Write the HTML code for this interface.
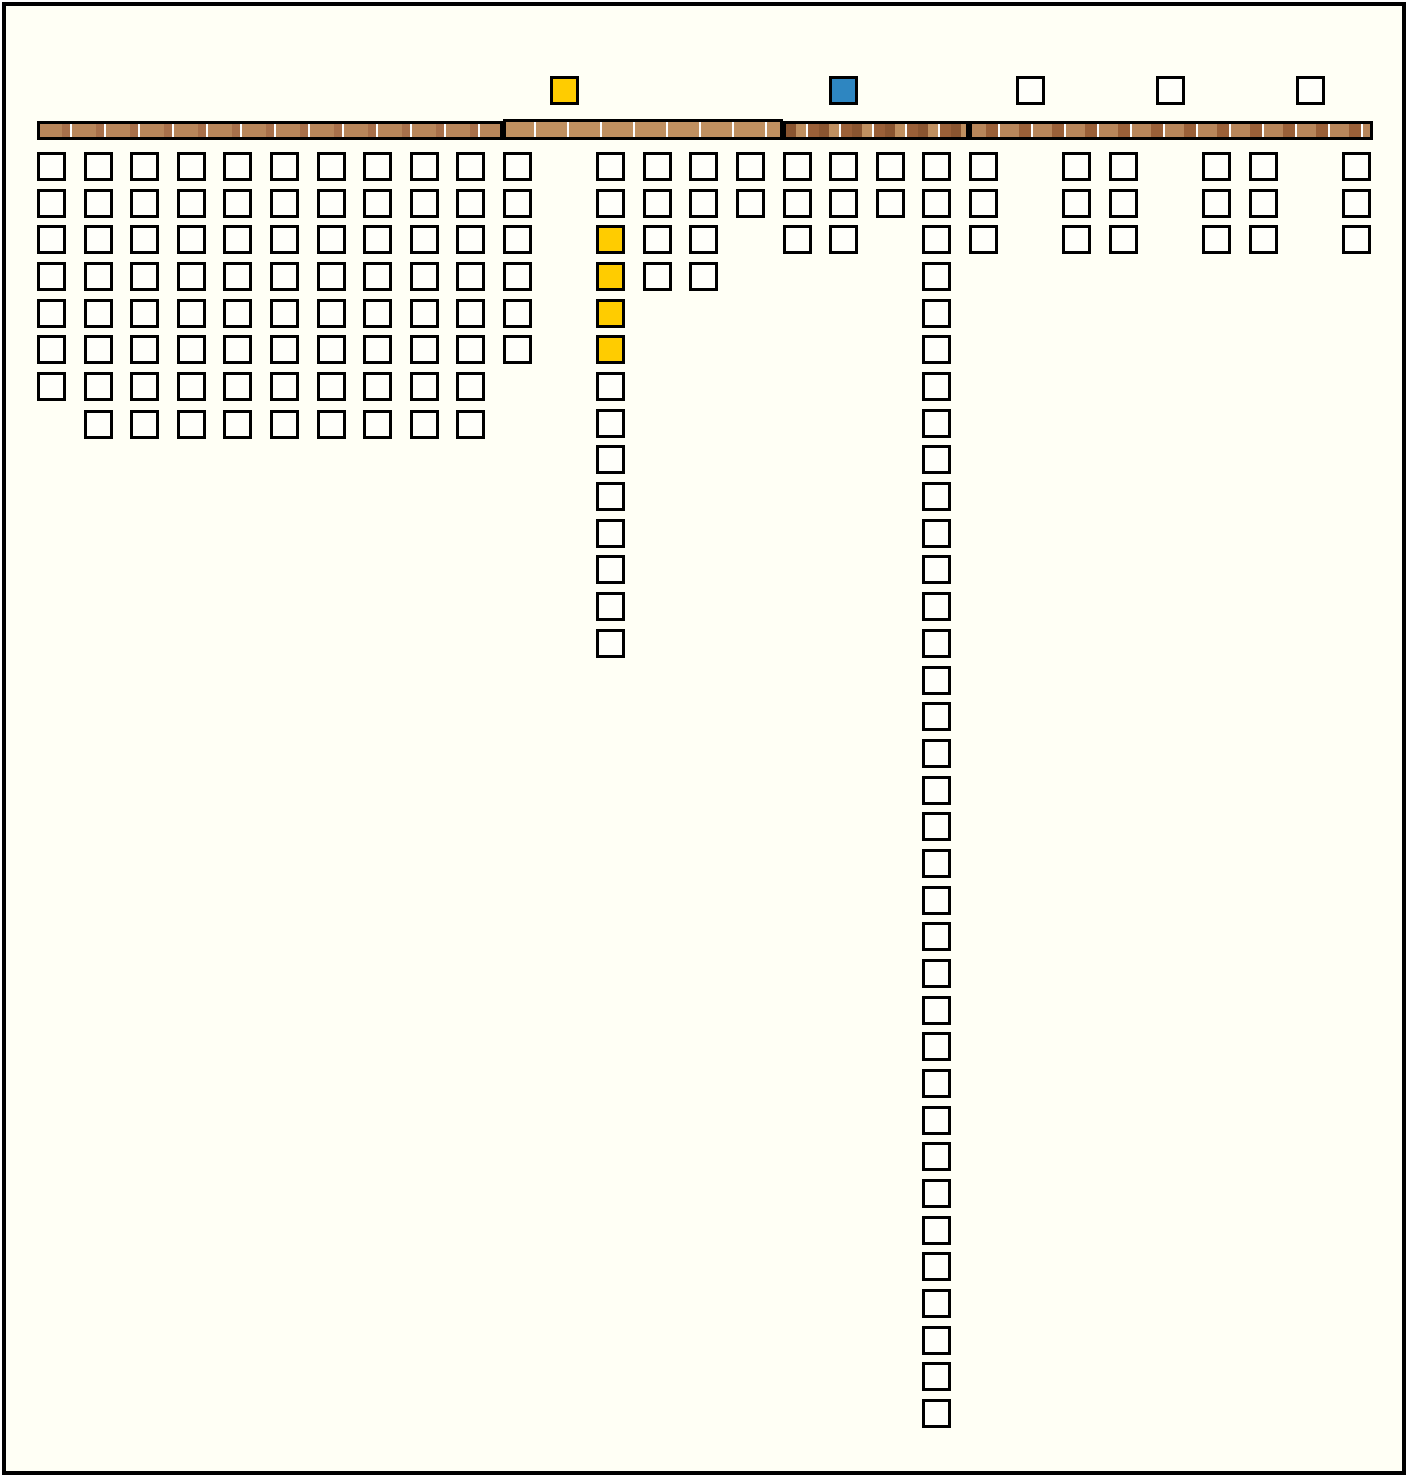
<!DOCTYPE html>
<html><head><meta charset="utf-8"><style>
body{margin:0;background:#fff;}
#c{position:relative;width:1408px;height:1475px;overflow:hidden;background:#fff;}
#f{position:absolute;left:2px;top:2px;width:1396px;height:1465px;border:4px solid #000;background:#fffff5;}
.s{position:absolute;width:23px;height:23px;border:3px solid #000;background:#fffffa;}
.y{background:#ffcc00;}
.b{background:#2e86c1;}
.bar{position:absolute;top:121px;height:13px;border:3px solid #000;}
</style></head><body><div id="c"><div id="f"></div>
<div class="bar" style="left:37px;width:460px;background:repeating-linear-gradient(90deg,#b8865a 0 22px,#a8704a 22px 30px,#fff 30px 32px,#b8865a 32px 34px);"></div>
<div class="bar" style="left:503px;width:274px;top:119px;height:15px;background:repeating-linear-gradient(90deg,#c09060 0 28px,#fff 28px 30px,#c09060 30px 33px);"></div>
<div class="bar" style="left:783px;width:180px;background:repeating-linear-gradient(90deg,#8a5530 0 10px,#c09060 10px 20px,#fff 20px 22px,#9a6038 22px 33px);"></div>
<div class="bar" style="left:969px;width:398px;background:repeating-linear-gradient(90deg,#b8865a 0 14px,#9a6038 14px 26px,#fff 26px 28px,#b8865a 28px 33px);"></div>
<div id="g"></div>
</div>
<script>
var c=document.getElementById('c');
function sq(x,y,cls){var d=document.createElement('div');d.className='s'+(cls?' '+cls:'');d.style.left=x+'px';d.style.top=y+'px';c.appendChild(d);}
var step=46.6,rs=36.68;
var counts={0:7,1:8,2:8,3:8,4:8,5:8,6:8,7:8,8:8,9:8,10:6,12:14,13:4,14:4,15:2,16:3,17:3,18:2,19:35,20:3,22:3,23:3,25:3,26:3,28:3};
for(var k in counts){var i=+k;for(var r=0;r<counts[k];r++){var cls=(i==12&&r>=2&&r<=5)?'y':'';
 var y=(i>=1&&i<=9&&r==7)?410:152+r*rs; if(i==0&&r==7)continue;
 sq(Math.round(37+i*step),Math.round(y),cls);}}
sq(550,76,'y');sq(829,76,'b');sq(1016,76,'');sq(1156,76,'');sq(1296,76,'');
</script>
</body></html>
